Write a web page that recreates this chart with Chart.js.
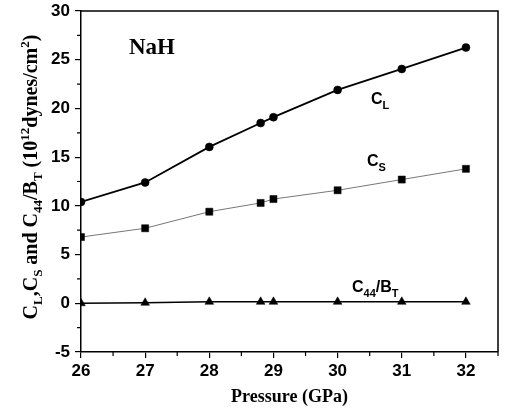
<!DOCTYPE html>
<html>
<head>
<meta charset="utf-8">
<script src="https://cdn.jsdelivr.net/npm/chart.js@4.4.1/dist/chart.umd.min.js"></script>
<style>
  html, body { margin: 0; padding: 0; background: #fff; }
  #wrap { width: 507px; height: 412px; position: relative; }
</style>
</head>
<body>
<div id="wrap"><canvas id="chart"></canvas></div>
<script>
const pressure = [26, 27, 28, 28.8, 29, 30, 31, 32];
const cL = [10.4, 12.4, 16.05, 18.5, 19.1, 21.9, 24.05, 26.25];
const cS = [6.8, 7.7, 9.4, 10.3, 10.7, 11.6, 12.7, 13.8];
const c44BT = [0.0, 0.05, 0.15, 0.15, 0.15, 0.15, 0.15, 0.15];

const xTickValues = [26, 27, 28, 29, 30, 31, 32];
const yTickValues = [-5, 0, 5, 10, 15, 20, 25, 30];
const xMinorTicks = [26.5, 27.5, 28.5, 29.5, 30.5, 31.5, 32.5];
const yMinorTicks = [-2.5, 2.5, 7.5, 12.5, 17.5, 22.5, 27.5];

const serif = "'Liberation Serif', 'Times New Roman', serif";
const sans = "'Liberation Sans', Arial, sans-serif";

function pts(ys) {
  return pressure.map((p, i) => ({ x: p, y: ys[i] }));
}

// draws a line of text made of pieces with sub/superscripts
function drawRich(ctx, parts, x, y, align) {
  let total = 0;
  parts.forEach(p => { ctx.font = p.font; total += ctx.measureText(p.t).width; });
  let cx = align === 'center' ? x - total / 2 : x;
  parts.forEach(p => {
    ctx.font = p.font;
    ctx.fillText(p.t, cx, y + (p.dy || 0));
    cx += ctx.measureText(p.t).width;
  });
}

const decorations = {
  id: 'decorations',
  afterDraw(chart) {
    const ctx = chart.ctx;
    const a = chart.chartArea;
    const xs = chart.scales.x, ys = chart.scales.y;
    ctx.save();
    ctx.strokeStyle = '#000';
    ctx.lineWidth = 1.5;
    ctx.beginPath();
    ctx.moveTo(a.left, a.top); ctx.lineTo(a.right, a.top); ctx.lineTo(a.right, a.bottom);
    ctx.stroke();
    ctx.lineWidth = 1.2;
    ctx.beginPath();
    xMinorTicks.forEach(v => {
      const px = xs.getPixelForValue(v);
      ctx.moveTo(px, a.bottom); ctx.lineTo(px, a.bottom + 4);
    });
    yMinorTicks.forEach(v => {
      const py = ys.getPixelForValue(v);
      ctx.moveTo(a.left, py); ctx.lineTo(a.left - 4, py);
    });
    ctx.stroke();

    ctx.fillStyle = '#000';
    ctx.textBaseline = 'alphabetic';
    ctx.textAlign = 'left';
    // NaH
    ctx.font = 'bold 23px ' + serif;
    ctx.fillText('NaH', 129, 54);

    const big = 'bold 16px ' + sans;
    const small = 'bold 11px ' + sans;
    drawRich(ctx, [{ t: 'C', font: big }, { t: 'L', font: small, dy: 5 }], 371, 104, 'left');
    drawRich(ctx, [{ t: 'C', font: big }, { t: 'S', font: small, dy: 5 }], 367, 166, 'left');
    drawRich(ctx, [{ t: 'C', font: big }, { t: '44', font: small, dy: 5 }, { t: '/B', font: big }, { t: 'T', font: small, dy: 5 }], 352, 292, 'left');

    // y axis title
    const tf = 'bold 20px ' + serif;
    const ts = 'bold 13px ' + serif;
    ctx.translate(37, 177);
    ctx.rotate(-Math.PI / 2);
    drawRich(ctx, [
      { t: 'C', font: tf }, { t: 'L', font: ts, dy: 5 }, { t: ',C', font: tf }, { t: 'S', font: ts, dy: 5 },
      { t: ' and C', font: tf }, { t: '44', font: ts, dy: 5 }, { t: '/B', font: tf }, { t: 'T', font: ts, dy: 5 },
      { t: ' (10', font: tf }, { t: '12', font: ts, dy: -8 }, { t: 'dynes/cm', font: tf }, { t: '2', font: ts, dy: -8 },
      { t: ')', font: tf }
    ], 0, 0, 'center');
    ctx.restore();
  }
};

new Chart(document.getElementById('chart'), {
  type: 'scatter',
  data: {
    datasets: [
      {
        label: 'CL', data: pts(cL), showLine: true,
        borderColor: '#000', backgroundColor: '#000', borderWidth: 1.8,
        pointStyle: 'circle', pointRadius: 4, pointBorderWidth: 0.5
      },
      {
        label: 'CS', data: pts(cS), showLine: true,
        borderColor: '#777', backgroundColor: '#000', pointBorderColor: '#000', borderWidth: 1,
        pointStyle: 'rect', pointRadius: 5, pointBorderWidth: 0.5
      },
      {
        label: 'C44/BT', data: pts(c44BT), showLine: true,
        borderColor: '#000', backgroundColor: '#000', borderWidth: 1.5,
        pointStyle: 'triangle', pointRadius: 5, pointBorderWidth: 0.5
      }
    ]
  },
  options: {
    responsive: true,
    maintainAspectRatio: false,
    animation: false,
    layout: { padding: { top: 11, right: 9, left: 0, bottom: 0 } },
    plugins: { legend: { display: false }, tooltip: { enabled: false } },
    scales: {
      x: {
        type: 'linear', min: 26, max: 32.5,
        afterBuildTicks: s => { s.ticks = xTickValues.map(v => ({ value: v })); },
        afterFit: s => { s.height = 60; s.paddingLeft = 0; s.paddingRight = 0; },
        ticks: { color: '#000', font: { family: sans, size: 17, weight: 'bold' }, padding: 3 },
        grid: { display: true, drawOnChartArea: false, drawTicks: true, tickLength: 6, color: '#000', lineWidth: 1.2 },
        border: { display: true, color: '#000', width: 1.5 },
        title: { display: true, text: 'Pressure (GPa)', color: '#000', font: { family: serif, size: 18, weight: 'bold' }, padding: { top: 2 } }
      },
      y: {
        min: -5, max: 30,
        afterBuildTicks: s => { s.ticks = yTickValues.map(v => ({ value: v })); },
        afterFit: s => { s.width = 81; s.paddingTop = 0; s.paddingBottom = 0; },
        ticks: { color: '#000', font: { family: sans, size: 17, weight: 'bold' }, padding: 5 },
        grid: { display: true, drawOnChartArea: false, drawTicks: true, tickLength: 6, color: '#000', lineWidth: 1.2 },
        border: { display: true, color: '#000', width: 1.5 }
      }
    }
  },
  plugins: [decorations]
});
</script>
</body>
</html>
